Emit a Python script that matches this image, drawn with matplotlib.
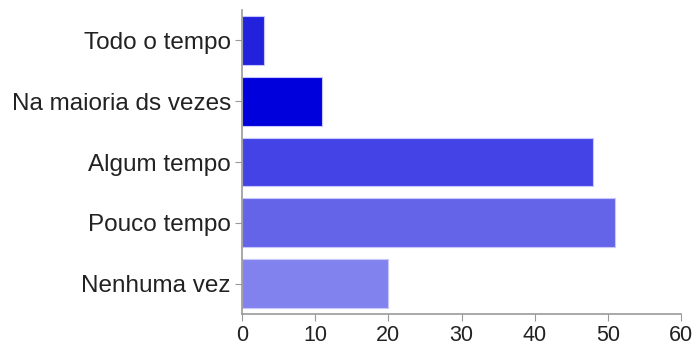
import matplotlib
matplotlib.use("Agg")
import matplotlib.pyplot as plt

categories = ["Todo o tempo", "Na maioria ds vezes", "Algum tempo", "Pouco tempo", "Nenhuma vez"]
values = [3, 11, 48, 51, 20]
colors = ["#2222dd", "#0000dd", "#4444e6", "#6464e8", "#8282ee"]
xticks = [0, 10, 20, 30, 40, 50, 60]

plt.rcParams['font.family'] = ['Liberation Sans', 'DejaVu Sans']

fig = plt.figure(figsize=(6.97, 3.45), dpi=100)
ax = fig.add_axes([242/697, 1 - 314/345, (681 - 242)/697, (314 - 10)/345])

ypos = list(range(len(categories)))
ax.barh(ypos, values, height=0.8, color=colors, edgecolor="#c8c8ff", linewidth=0.8)
ax.set_ylim(len(categories) - 0.5, -0.5)
ax.set_xlim(0, 60)
ax.set_yticks(ypos)
ax.set_yticklabels(categories)
ax.set_xticks(xticks)
ax.set_xticklabels([str(t) for t in xticks])

for s in ["top", "right"]:
    ax.spines[s].set_visible(False)
for s in ["left", "bottom"]:
    ax.spines[s].set_color("#999999")
    ax.spines[s].set_linewidth(1.2)

ax.tick_params(axis="y", length=5, color="#999999", labelsize=17.5, labelcolor="#222222", pad=3)
ax.tick_params(axis="x", length=5, color="#999999", labelsize=15.5, labelcolor="#222222", pad=3)

fig.savefig("out.png", dpi=100)
